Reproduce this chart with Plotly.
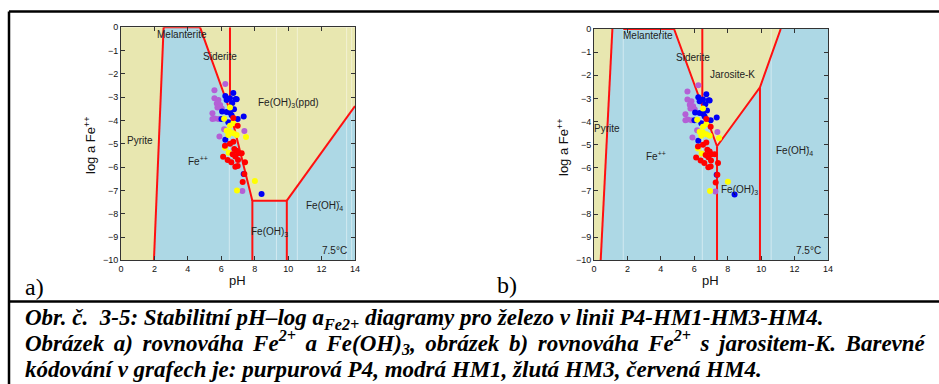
import plotly.graph_objects as go

W, H = 939, 384

# ---- measured samples: pH and log a(Fe++) per sampling point ----
p4_ph = [6.24, 5.59, 5.59, 5.83, 5.73, 5.93, 5.77, 6.03, 5.47, 5.61, 5.47, 5.83, 6.17, 5.89, 7.38, 7.26]
p4_log = [-2.43, -2.70, -3.05, -3.12, -3.27, -3.34, -3.44, -3.48, -3.69, -3.91, -3.94, -3.94, -4.38, -4.69, -4.45, -7.03]

hm1_ph = [6.72, 6.24, 6.52, 6.86, 6.32, 6.92, 6.66, 6.05, 6.32, 6.52, 6.76, 6.62, 6.01, 6.42, 6.98, 7.34, 6.24, 7.34, 8.41]
hm1_log = [-2.82, -2.95, -3.05, -3.08, -3.12, -3.09, -3.25, -3.61, -3.63, -3.66, -3.52, -3.78, -3.94, -4.08, -3.94, -3.83, -4.83, -6.30, -7.15]

hm3_ph = [6.52, 6.17, 6.72, 6.52, 6.32, 6.52, 6.72, 6.92, 6.42, 7.48, 6.22, 6.44, 8.01, 6.94]
hm3_log = [-3.44, -3.92, -4.12, -4.23, -4.44, -4.48, -4.55, -4.62, -4.62, -4.71, -5.17, -5.38, -6.60, -7.00]

hm4_ph = [6.72, 6.98, 6.52, 6.72, 6.22, 6.78, 6.92, 7.02, 7.22, 6.68, 6.84, 6.11, 6.38, 6.60, 7.00, 7.42, 6.98, 6.84, 7.38, 7.28]
hm4_log = [-3.89, -4.23, -5.00, -4.91, -5.08, -5.22, -5.30, -5.41, -5.41, -5.45, -5.55, -5.56, -5.69, -5.79, -5.69, -5.79, -5.95, -5.98, -6.30, -6.64]

# ---- stability field boundaries, diagram a) Fe(OH)3(ppd) ----
a_pyrite_ph, a_pyrite_log = [1.97, 2.55], [-10, 0]
a_melant_ph, a_melant_log = [2.55, 4.73], [0, 0]
a_feppd_ph, a_feppd_log = [4.73, 6.52, 7.86], [0, -3.58, -7.44]
a_sider_ph, a_sider_log = [6.52, 6.52], [0, -3.58]
a_box_ph, a_box_log = [7.86, 7.86, 9.92, 9.92], [-10, -7.44, -7.44, -10]
a_oh4_ph, a_oh4_log = [9.92, 14.0], [-7.44, -3.38]
# aqueous (Fe++, Fe(OH)3, Fe(OH)4-) field outline
a_aq_ph = [1.97, 2.55, 4.73, 6.52, 7.86, 9.92, 14.0, 14.0]
a_aq_log = [-10, 0, 0, -3.58, -7.44, -7.44, -3.38, -10]

# ---- stability field boundaries, diagram b) jarosite-K ----
b_pyrite_ph, b_pyrite_log = [0.40, 1.10], [-10, 0]
b_melant_ph, b_melant_log = [1.75, 4.79], [0, 0]
b_jar_ph, b_jar_log = [4.79, 6.48, 7.36, 9.93, 11.17], [0, -3.38, -5.07, -2.52, 0]
b_sider_ph, b_sider_log = [6.48, 6.48], [0, -3.38]
b_v1_ph, b_v1_log = [7.36, 7.36], [-5.07, -10]
b_v2_ph, b_v2_log = [9.93, 9.93], [-2.52, -10]
b_aq_ph = [0.40, 1.10, 4.79, 6.48, 7.36, 9.93, 11.17, 14.0, 14.0]
b_aq_log = [-10, 0, 0, -3.38, -5.07, -2.52, 0, 0, -10]

# faint rendering seams inside the fields
a_seams = [6.48, 9.3, 10.55, 13.5, 13.8]
b_seams = [1.75, 6.48, 10.6]

YELLOW = "#E8E7B0"
BLUE = "#ADD8E5"
RED = "#FF1010"
SAMPLE_COLORS = {"P4": "#B45FD6", "HM1": "#0000F5", "HM3": "#FFFF00", "HM4": "#FF0000"}

fig = go.Figure()


def add_panel(xr, yr, aq_ph, aq_log, lines, seams):
    fig.add_trace(go.Scatter(x=aq_ph, y=aq_log, xaxis=xr, yaxis=yr, mode="lines",
                             fill="toself", fillcolor=BLUE, line=dict(width=0),
                             hoverinfo="skip", showlegend=False))
    for s in seams:
        fig.add_trace(go.Scatter(x=[s, s], y=[-10, 0], xaxis=xr, yaxis=yr, mode="lines",
                                 line=dict(color="rgba(255,255,255,0.45)", width=1),
                                 hoverinfo="skip", showlegend=False))
    for ph, lg in lines:
        fig.add_trace(go.Scatter(x=ph, y=lg, xaxis=xr, yaxis=yr, mode="lines",
                                 line=dict(color=RED, width=2),
                                 hoverinfo="skip", showlegend=False))
    for name, ph, lg in [("P4", p4_ph, p4_log), ("HM1", hm1_ph, hm1_log),
                         ("HM3", hm3_ph, hm3_log), ("HM4", hm4_ph, hm4_log)]:
        fig.add_trace(go.Scatter(x=ph, y=lg, xaxis=xr, yaxis=yr, mode="markers",
                                 marker=dict(color=SAMPLE_COLORS[name], size=6, line=dict(width=0)),
                                 name=name, showlegend=False))


add_panel("x", "y", a_aq_ph, a_aq_log,
          [(a_pyrite_ph, a_pyrite_log), (a_melant_ph, a_melant_log), (a_feppd_ph, a_feppd_log),
           (a_sider_ph, a_sider_log), (a_box_ph, a_box_log), (a_oh4_ph, a_oh4_log)],
          a_seams)
add_panel("x2", "y2", b_aq_ph, b_aq_log,
          [(b_pyrite_ph, b_pyrite_log), (b_melant_ph, b_melant_log), (b_jar_ph, b_jar_log),
           (b_sider_ph, b_sider_log), (b_v1_ph, b_v1_log), (b_v2_ph, b_v2_log)],
          b_seams)


def px_x(p):
    return p / W


def px_y(p):
    return 1 - p / H


axis_common = dict(showgrid=False, zeroline=False, ticks="inside", ticklen=4, tickwidth=1,
                   tickcolor="#333", showline=True, linecolor="#333", linewidth=1,
                   mirror="allticks", automargin=False,
                   tickfont=dict(family="Liberation Sans", size=9, color="#111"))

fig.update_layout(
    template="none",
    width=W, height=H, margin=dict(l=0, r=0, t=0, b=0, pad=0),
    paper_bgcolor="white", plot_bgcolor=YELLOW, showlegend=False,
    xaxis=dict(domain=[px_x(121), px_x(355)], range=[0, 14], tickvals=[0, 2, 4, 6, 8, 10, 12, 14],
               anchor="y", **axis_common),
    yaxis=dict(domain=[px_y(260.3), px_y(27.3)], range=[-10, 0], tickvals=list(range(-10, 1)),
               anchor="x", **axis_common),
    xaxis2=dict(domain=[px_x(594), px_x(828)], range=[0, 14], tickvals=[0, 2, 4, 6, 8, 10, 12, 14],
                anchor="y2", **axis_common),
    yaxis2=dict(domain=[px_y(260.3), px_y(29)], range=[-10, 0], tickvals=list(range(-10, 1)),
                anchor="x2", **axis_common),
)

ann = []


def lab(xr, yr, x, y, text, size=10):
    ann.append(dict(xref=xr, yref=yr, x=x, y=y, text=text, showarrow=False,
                    xanchor="center", yanchor="middle",
                    font=dict(family="Liberation Sans", size=size, color="#222")))


def paper_text(cx, cy, text, font, angle=0, xanchor="center"):
    ann.append(dict(xref="paper", yref="paper", x=px_x(cx), y=px_y(cy), text=text,
                    textangle=angle, showarrow=False, xanchor=xanchor, yanchor="middle",
                    font=font))


# diagram a) field labels
lab("x", "y", 3.66, -0.30, "Melanterite")
lab("x", "y", 5.94, -1.26, "Siderite")
lab("x", "y", 10.02, -3.24, "Fe(OH)<sub>3</sub>(ppd)")
lab("x", "y", 1.11, -4.87, "Pyrite")
lab("x", "y", 4.59, -5.75, "Fe<sup>++</sup>")
lab("x", "y", 12.2, -7.66, "Fe(OH)<sub>4</sub>")
lab("x", "y", 13.05, -7.45, "-", 7)
lab("x", "y", 8.87, -8.8, "Fe(OH)<sub>3</sub>")
lab("x", "y", 12.79, -9.59, "7.5°C")

# diagram b) field labels
lab("x2", "y2", 3.25, -0.26, "Melanterite")
lab("x2", "y2", 5.91, -1.24, "Siderite")
lab("x2", "y2", 8.30, -1.98, "Jarosite-K")
lab("x2", "y2", 0.80, -4.31, "Pyrite")
lab("x2", "y2", 3.71, -5.48, "Fe<sup>++</sup>")
lab("x2", "y2", 12.0, -5.27, "Fe(OH)<sub>4</sub>")
lab("x2", "y2", 12.85, -5.06, "-", 7)
lab("x2", "y2", 8.70, -6.96, "Fe(OH)<sub>3</sub>")
lab("x2", "y2", 12.83, -9.58, "7.5°C")

# axis titles
AX = dict(family="Liberation Sans", size=13, color="#111")
for cx, yx, yy in [(237.7, 90, 145), (710.7, 563, 147)]:
    paper_text(cx, 280, "pH", AX)
    paper_text(yx, yy, "log a Fe<sup>++</sup>", AX, angle=-90)

# panel letters
LET = dict(family="Liberation Serif", size=24, color="black")
paper_text(34, 287, "a)", LET)
paper_text(507, 285, "b)", LET)

# caption (second paragraph justified: widened word gaps on its first line)
CAP = dict(family="Liberation Serif", size=23, color="black")
line2_words = ["Obrázek", "a)", "rovnováha", "Fe<sup>2+</sup>", "a", "Fe(OH)<sub>3</sub>,", "obrázek", "b)",
               "rovnováha", "Fe<sup>2+</sup>", "s", "jarositem-K.", "Barevné"]
cap_lines = [
    "Obr. č.\u00a0\u00a03-5: Stabilitní pH–log a<sub>Fe2+</sub> diagramy pro železo v linii P4-HM1-HM3-HM4.",
    " \u2006".join(line2_words),
    "kódování v grafech je: purpurová P4, modrá HM1, žlutá HM3, červená HM4.",
]
for txt, yc in zip(cap_lines, [319, 342, 369]):
    paper_text(23, yc, "<b><i>" + txt + "</i></b>", CAP, xanchor="left")

fig.update_layout(annotations=ann)

# frame around the figure and caption
frame = dict(type="line", xref="paper", yref="paper", line=dict(color="black", width=2.5))
fig.add_shape(x0=px_x(9), x1=1, y0=px_y(11.5), y1=px_y(11.5), **frame)
fig.add_shape(x0=px_x(9), x1=px_x(9), y0=px_y(11.5), y1=0, **frame)
fig.add_shape(x0=px_x(9), x1=1, y0=px_y(301.5), y1=px_y(301.5), **frame)

fig.write_html("out.html")
